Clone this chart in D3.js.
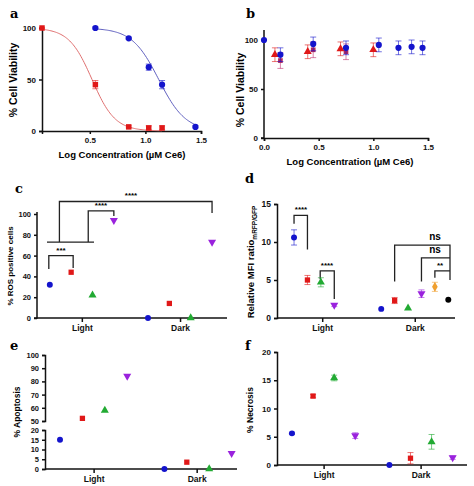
<!DOCTYPE html><html><head><script src="https://cdn.jsdelivr.net/npm/d3@7"></script>
<style>body{margin:0;background:#fff}text{font-family:"Liberation Sans",Arial,sans-serif;font-weight:bold}</style></head><body>
<svg id="s" width="474" height="486"></svg>
<script>
// Panel a
const aRedX=[0.07,0.55,0.85,1.03,1.15], aRedY=[100,45,4,3,3], aRedE=[0,4,1,2,2];
const aBlueX=[0.55,0.85,1.03,1.15,1.45], aBlueY=[100,90,62,45,4], aBlueE=[1,1,3,4,1];
const aRedFit={ic50:0.52,hill:4.2}, aBlueFit={ic50:1.12,hill:3.6};
// Panel b
const bBlueX=[0,0.15,0.45,0.75,1.05,1.23,1.35,1.45], bBlueY=[100,85,96,92,95,92,93,92];
const bRedX=[0.1,0.4,0.7,1.0], bRedY=[85,88,91,90];
const bMagX=[0.15,0.45,0.75], bMagY=[79,90,88];
// Panel c
const groups=["Light","Dark"];
const cVals=[[32,44,22,94],[0,14,0,73]];
// Panel d
const dVals=[[10.6,5.0,4.7,1.7],[1.2,2.3,1.3,3.2,4.1,2.4]], dErr=[[1,0.6,0.6,0.2],[0.1,0.4,0.1,0.5,0.6,0.1]];
// Panel e
const eVals=[[15,52,58,84],[0,3.5,0,8]];
// Panel f
const fVals=[[5.6,12.2,15.4,5.2],[0,1.2,4.1,1.3]], fErr=[[0.2,0.3,0.5,0.5],[0,1,1.3,0.3]];
const colors=["#1414cc","#e01818","#22aa33","#9a22dd","#f0a030","#000"];
const shapes=[d3.symbolCircle,d3.symbolSquare,d3.symbolTriangle,"tdown",d3.symbolDiamond,d3.symbolCircle];

const svg=d3.select("#s");
function sym(g,x,y,k,size=30,col){
  const t=shapes[k];
  g.append("path").attr("fill",col||colors[k]).attr("transform",`translate(${x},${y})`+(t==="tdown"?" rotate(180)":""))
   .attr("d",d3.symbol(t==="tdown"?d3.symbolTriangle:t,size)());
}
function err(g,x,y0,y1,c){
  g.append("path").attr("d",`M${x},${y0}V${y1}M${x-3},${y0}H${x+3}M${x-3},${y1}H${x+3}`).attr("stroke",c).attr("stroke-opacity",0.6).attr("fill","none");
}
function styleAxis(g,fs=8){g.selectAll("text").attr("font-size",fs).attr("fill","#111");g.selectAll("path,line").attr("stroke","#111").attr("stroke-width",1.5);}
function label(t,x,y){svg.append("text").attr("x",x).attr("y",y).text(t).style("font-family","'DejaVu Serif',serif").attr("font-size",13);}
function ylab(t,x,y,fs=9){return svg.append("text").attr("transform",`translate(${x},${y}) rotate(-90)`).attr("text-anchor","middle").attr("font-size",fs).text(t);}

// ---- a
{
 const x=d3.scaleLinear().domain([0.07,1.5]).range([42,201]), y=d3.scaleLinear().domain([0,100]).range([131,28]);
 const g=svg.append("g");
 styleAxis(g.append("g").attr("transform","translate(0,131)").call(d3.axisBottom(x).tickValues([0.5,1,1.5]).tickFormat(d3.format(".1f")).tickSize(3)));
 styleAxis(g.append("g").attr("transform","translate(42,0)").call(d3.axisLeft(y).tickValues([0,50,100]).tickSize(3)));
 const fit=(f,x0,x1)=>d3.range(x0,x1+0.001,0.01).map(v=>[v,100/(1+Math.pow(10,f.hill*(v-f.ic50)))]);
 const line=d3.line().x(d=>x(d[0])).y(d=>y(d[1]));
 g.append("path").attr("d",line(fit(aRedFit,0.07,1.15))).attr("stroke","#e07070").attr("fill","none");
 g.append("path").attr("d",line(fit(aBlueFit,0.55,1.45))).attr("stroke","#6060c0").attr("fill","none");
 aRedX.forEach((v,i)=>{err(g,x(v),y(aRedY[i]-aRedE[i]),y(aRedY[i]+aRedE[i]),"#e01818");sym(g,x(v),y(aRedY[i]),1,30);});
 aBlueX.forEach((v,i)=>{err(g,x(v),y(aBlueY[i]-aBlueE[i]),y(aBlueY[i]+aBlueE[i]),"#1414cc");sym(g,x(v),y(aBlueY[i]),0,30);});
 svg.append("text").attr("x",122).attr("y",158).attr("text-anchor","middle").attr("font-size",9.5).text("Log Concentration (µM Ce6)");
 ylab("% Cell Viability",17,80,10.5);
 label("a",10,18);
}
// ---- b
{
 const x=d3.scaleLinear().domain([0,1.5]).range([264,428]), y=d3.scaleLinear().domain([0,100]).range([138,40]);
 const g=svg.append("g");
 styleAxis(g.append("g").attr("transform","translate(0,138)").call(d3.axisBottom(x).tickValues([0,0.5,1,1.5]).tickFormat(d3.format(".1f")).tickSize(3)));
 styleAxis(g.append("g").attr("transform","translate(264,0)").call(d3.axisLeft(y).tickValues([0,50,100]).tickSize(3)).call(a=>a.select(".domain").attr("d","M-3,138H0V30")));
 bRedX.forEach((v,i)=>{err(g,x(v),y(bRedY[i]-7),y(bRedY[i]+7),"#e01818");sym(g,x(v),y(bRedY[i]),2,28,"#e01818");});
 bMagX.forEach((v,i)=>{err(g,x(v),y(bMagY[i]-8),y(bMagY[i]+8),"#c03070");sym(g,x(v),y(bMagY[i]),1,22,"#b02860");});
 bBlueX.forEach((v,i)=>{if(i)err(g,x(v),y(bBlueY[i]-7),y(bBlueY[i]+7),"#1414cc");sym(g,x(v),y(bBlueY[i]),0,30);});
 svg.append("text").attr("x",350).attr("y",165).attr("text-anchor","middle").attr("font-size",9.5).text("Log Concentration (µM Ce6)");
 ylab("% Cell Viability",244,90,10.5);
 label("b",246,18);
}
function cat(o){
 const x=d3.scaleLinear().domain(o.dom).range(o.rng), g=svg.append("g");
 const slot=(gi,i)=>gi*o.gap+i;
 const ax=d3.axisBottom(x).tickValues(o.ticks).tickFormat((d,i)=>groups[i]).tickSize(4);
 styleAxis(g.append("g").attr("transform",`translate(0,${o.y0})`).call(ax).call(a=>a.select(".domain").attr("d",`M${o.rng[0]},0H${o.rng[1]}`)),8.5);
 o.vals.forEach((arr,gi)=>arr.forEach((v,i)=>{
   const px=x(slot(gi,i)), py=o.yf(v);
   if(o.errs){const e=o.errs[gi][i]; if(e>0.15) err(g,px,o.yf(v-e),o.yf(v+e),colors[i]);}
   sym(g,px,py,i,28);
 }));
 return {x,slot,g};
}
const br=(g,d)=>g.append("path").attr("d",d).attr("stroke","#222").attr("stroke-width",1.3).attr("fill","none");
const star=(t,x,y,fs=8)=>svg.append("text").attr("x",x).attr("y",y).attr("text-anchor","middle").attr("font-size",fs).text(t);
// ---- c
{
 const y=d3.scaleLinear().domain([0,100]).range([318,214]);
 const g=svg.append("g");
 styleAxis(g.append("g").attr("transform","translate(37,0)").call(d3.axisLeft(y).tickValues(d3.range(0,101,20)).tickSize(3)).call(a=>a.select(".domain").attr("d","M-3,318H0V212")),7.5);
 const c=cat({dom:[-0.6,8.3],rng:[37,227],gap:4.6,ticks:[1.5,6.1],y0:318,vals:cVals,yf:y});
 const X=c.x;
 br(g,`M${X(0)-1},${y(47)}V${y(60)}H${X(1)+2}V${y(48)}`); star("***",61,y(60)-3);
 br(g,`M47,${y(73)}H94`);
 br(g,`M${X(1.8)},${y(73)}V${y(103)}H${X(3)}V${y(98)}`); star("****",101,y(103)-3);
 br(g,`M${X(0.45)},${y(73)}V${y(112)}H${X(7.6)}V${y(101)}`); star("****",131,y(112)-4);
 ylab("% ROS positive cells",13,266,8);
 label("c",15,193);
}
// ---- d
{
 const y=d3.scaleLinear().domain([0,15]).range([318,204]);
 const g=svg.append("g");
 styleAxis(g.append("g").attr("transform","translate(277,0)").call(d3.axisLeft(y).tickValues([0,5,10,15]).tickSize(3)),8.5);
 const c=cat({dom:[-1.27,12],rng:[277,455],gap:6.5,ticks:[2.1,9],y0:318,vals:dVals,errs:dErr,yf:y});
 const X=c.x;
 br(g,`M${X(0)},${y(12.4)}V${y(13.5)}H${X(1)}V${y(9)}`); star("****",301,y(13.5)-3);
 br(g,`M${X(1.95)},${y(5.1)}V${y(6.2)}H${X(3)}V${y(2.5)}`); star("****",327,y(6.2)-3);
 br(g,`M${X(7.5)},${y(4.8)}V${y(9.6)}H450V${y(5)}`); star("ns",435,y(9.6)-5,10);
 br(g,`M${X(9.5)},${y(4.8)}V${y(7.9)}H450`); star("ns",435,y(7.9)-5,10);
 br(g,`M${X(10.5)},${y(5.3)}V${y(6.2)}H450`); star("**",440,y(6.2)-3);
 const t=ylab("",254,262,9.5);
 t.append("tspan").text("Relative MFI ratio");
 t.append("tspan").text("mRFP/GFP").attr("font-size",6.5).attr("dy",3);
 label("d",245,183);
}
// ---- e (broken axis)
{
 const yT=d3.scaleLinear().domain([50,100]).range([421,355]), yB=d3.scaleLinear().domain([0,20]).range([469,430]);
 const yf=v=>v>=35?yT(v):yB(v);
 const g=svg.append("g");
 styleAxis(g.append("g").attr("transform","translate(45,0)").call(d3.axisLeft(yT).tickValues(d3.range(50,101,10)).tickSize(3)),7.5);
 styleAxis(g.append("g").attr("transform","translate(45,0)").call(d3.axisLeft(yB).tickValues(d3.range(0,21,5)).tickSize(3)),7.5);
 cat({dom:[-0.67,7.9],rng:[45,237],gap:4.66,ticks:[1.5,6.1],y0:469,vals:eVals,yf});
 ylab("% Apoptosis",20,412,8.5);
 label("e",10,350);
}
// ---- f
{
 const y=d3.scaleLinear().domain([0,20]).range([465,352]);
 const g=svg.append("g");
 styleAxis(g.append("g").attr("transform","translate(277,0)").call(d3.axisLeft(y).tickValues([0,5,10,15,20]).tickSize(3)),8);
 cat({dom:[-0.71,8.3],rng:[277,467],gap:4.62,ticks:[1.5,6.1],y0:465,vals:fVals,errs:fErr,yf:y});
 ylab("% Necrosis",253,410,8.5);
 label("f",245,350);
}
</script></body></html>
